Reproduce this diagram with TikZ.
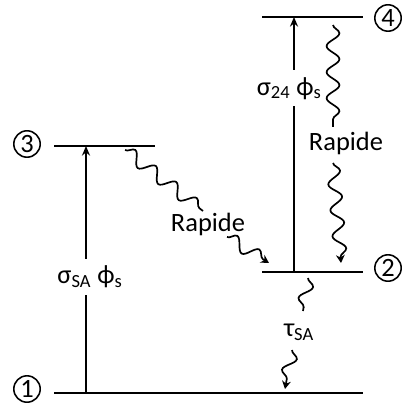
\documentclass[tikz,border=0pt]{standalone}
\usepackage{fontspec}
\setmainfont{Carlito}
\usetikzlibrary{arrows.meta, decorations.pathmorphing}

\begin{document}
\begin{tikzpicture}[x=0.025cm, y=-0.025cm, font=\fontsize{18.8}{22}\selectfont,
        niveau/.style={line width=1.6pt},
        etat/.style={draw, circle, line width=1.1pt, minimum size=6.6mm, inner sep=0pt},
        pompe/.style={-{Stealth[length=2.4mm, width=2mm]}, line width=1.3pt},
        rapide/.style={decorate, line width=1.2pt,
            decoration={snake, amplitude=1.6mm, segment length=6.5mm, post length=0.8mm}},
        rapideFl/.style={rapide, -{Stealth[length=2mm, width=2.2mm]}},
        lbl/.style={fill=white, inner xsep=0pt, inner ysep=5pt}]
        \useasboundingbox (0,0) rectangle (401,412);
        % niveaux
        \coordinate (n1g) at (54,393);  \coordinate (n1d) at (363,393);
        \coordinate (n2g) at (262,272); \coordinate (n2d) at (363,272);
        \coordinate (n3g) at (54,146);  \coordinate (n3d) at (155,146);
        \coordinate (n4g) at (262,17);  \coordinate (n4d) at (363,17);
        \foreach \n in {1,2,3,4} \draw[niveau] (n\n g) -- (n\n d);
        \node[etat] (e1) at (27,389)  {1};
        \node[etat] (e2) at (388,268) {2};
        \node[etat] (e3) at (27,144)  {3};
        \node[etat] (e4) at (388,18)  {4};
        % pompage
        \coordinate (p1) at (86,393);  \coordinate (p3) at (86,146);
        \coordinate (p2) at (294,272); \coordinate (p4) at (294,17);
        \draw[pompe] (p1) -- node[lbl, pos=0.47, xshift=1mm] (sSA) {σ\textsubscript{SA} ϕ\textsubscript{s}} (p3);
        \draw[pompe] (p2) -- node[lbl, pos=0.72, xshift=-1.2mm] (s24) {σ\textsubscript{24} ϕ\textsubscript{s}} (p4);
        % relaxations
        \node (r42) at (346,143) {Rapide};
        \node (r32) at (208,224) {Rapide};
        \node (t21) at (299,332) {τ\textsubscript{SA}};
        \coordinate (a4) at (333,25);  \coordinate (b4) at (333,127);
        \coordinate (c4) at (333,163); \coordinate (d4) at (341,263);
        \draw[rapide] (a4) -- (b4);
        \draw[rapideFl] (c4) -- (d4);
        \coordinate (a3) at (125,150); \coordinate (b3) at (203,211);
        \coordinate (c3) at (227,237); \coordinate (d3) at (269,263);
        \draw[rapide] (a3) -- (b3);
        \draw[rapideFl] (c3) -- (d3);
        \coordinate (a2) at (308,278); \coordinate (b2) at (303,311);
        \coordinate (c2) at (292,350); \coordinate (d2) at (285,389);
        \draw[rapide] (a2) -- (b2);
        \draw[rapideFl] (c2) -- (d2);
    \end{tikzpicture}
\end{document}
